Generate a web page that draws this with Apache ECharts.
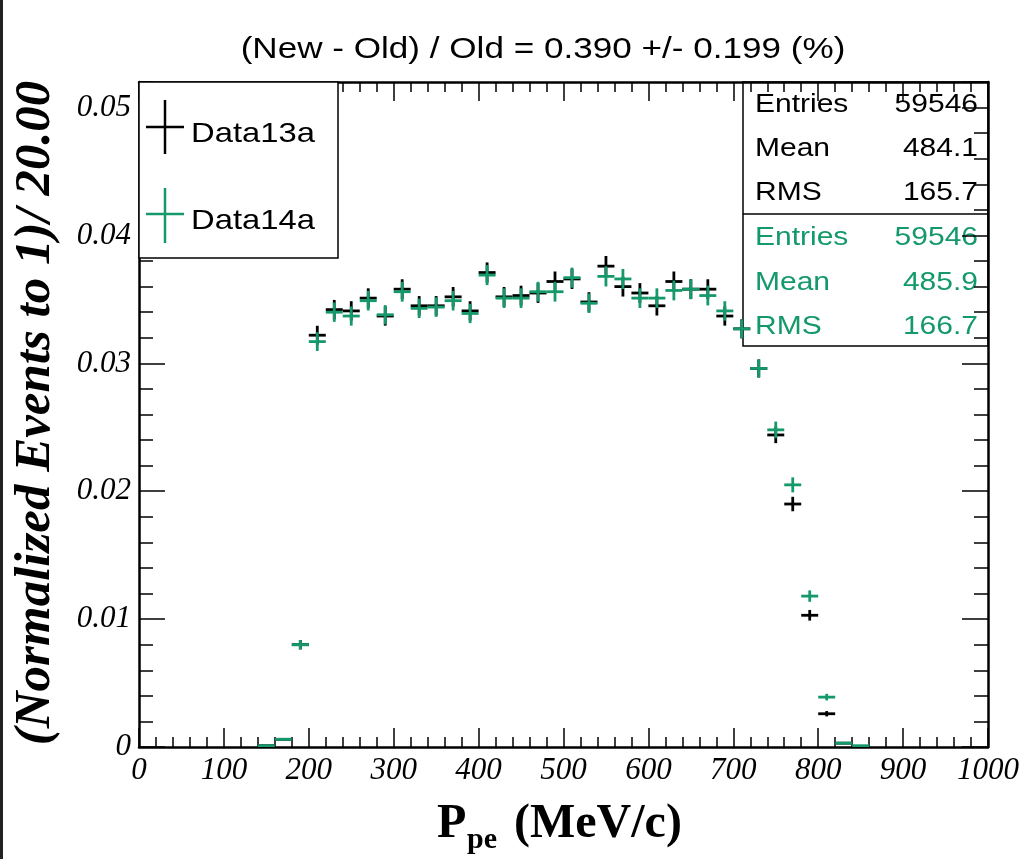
<!DOCTYPE html>
<html>
<head>
<meta charset="utf-8">
<script src="https://cdn.jsdelivr.net/npm/echarts@6/dist/echarts.min.js"></script>
<style>html,body{margin:0;padding:0;background:#fff}#c{width:1031px;height:859px}</style>
</head>
<body>
<div id="c"></div>
<script>
// ---- data ----
const binCenters = [150,170,190,210,230,250,270,290,310,330,350,370,390,410,430,450,470,490,510,530,550,570,590,610,630,650,670,690,710,730,750,770,790,810,830,850];
const data13a = [0.0001,0.0006,0.0080,0.0322,0.0342,0.0341,0.0351,0.0337,0.0358,0.0345,0.0345,0.0352,0.0341,0.0371,0.0352,0.0353,0.0355,0.0364,0.0366,0.0348,0.0376,0.0360,0.0355,0.0345,0.0364,0.0358,0.0358,0.0337,0.0327,0.0296,0.0244,0.0190,0.0103,0.0026,0.0003,0.0000];
const data14a = [0.0001,0.0006,0.0080,0.0317,0.0340,0.0337,0.0349,0.0338,0.0356,0.0343,0.0344,0.0349,0.0339,0.0369,0.0351,0.0351,0.0356,0.0356,0.0367,0.0347,0.0368,0.0366,0.0351,0.0351,0.0357,0.0358,0.0353,0.0341,0.0327,0.0296,0.0248,0.0205,0.0118,0.0039,0.0003,0.0001];
const seriesNames = ['Data13a','Data14a'];
const entries = [59546, 59546];
const means = ['484.1','485.9'];
const rmsVals = ['165.7','166.7'];
const binWidth = 20;
const xTicks = [0,100,200,300,400,500,600,700,800,900,1000];
const yTickLabels = ['0','0.01','0.02','0.03','0.04','0.05'];
const titleText = '(New - Old) / Old = 0.390 +/- 0.199 (%)';

const BLACK = '#000000';
const GREEN = '#14996a';

function buildData(vals, n) {
  const out = [];
  for (let i = 0; i < binCenters.length; i++) {
    if (vals[i] > 0) out.push([binCenters[i], vals[i], Math.sqrt(vals[i] / n)]);
  }
  return out;
}

function crossRenderer(color) {
  return function (params, api) {
    const x = api.value(0), y = api.value(1), e = api.value(2);
    const c = api.coord([x, y]);
    const l = api.coord([x - binWidth / 2, y]);
    const r = api.coord([x + binWidth / 2, y]);
    const t = api.coord([x, y + e]);
    const b = api.coord([x, Math.max(0, y - e)]);
    const st = { stroke: color, lineWidth: 2.8 };
    return {
      type: 'group',
      children: [
        { type: 'line', shape: { x1: l[0], y1: c[1], x2: r[0], y2: c[1] }, style: st },
        { type: 'line', shape: { x1: c[0], y1: t[1], x2: c[0], y2: b[1] }, style: st }
      ]
    };
  };
}

const chart = echarts.init(document.getElementById('c'), null, { renderer: 'canvas' });

const tickFont = { fontFamily: 'Liberation Serif', fontStyle: 'italic', fontSize: 31, color: '#000' };
const axLine = { show: true, onZero: false, lineStyle: { color: '#000', width: 2.5 } };
const noLine = { show: false, onZero: false };

const baseXMajor = {
  type: 'value', min: xTicks[0], max: xTicks[xTicks.length - 1], interval: 100,
  axisLine: axLine,
  axisTick: { show: true, inside: true, length: 19, lineStyle: { color: '#000', width: 1.5 } },
  splitLine: { show: false }
};
const baseXMinor = {
  type: 'value', min: xTicks[0], max: xTicks[xTicks.length - 1], interval: 20,
  axisLine: noLine,
  axisTick: { show: true, inside: true, length: 10, lineStyle: { color: '#000', width: 1.5 } },
  axisLabel: { show: false },
  splitLine: { show: false }
};
const baseYMajor = {
  type: 'value', min: 0, max: 0.052, interval: 0.01,
  axisLine: axLine,
  axisTick: { show: true, inside: true, length: 26, lineStyle: { color: '#000', width: 1.5 } },
  splitLine: { show: false }
};
const baseYMinor = {
  type: 'value', min: 0, max: 0.052, interval: 0.002,
  axisLine: noLine,
  axisTick: { show: true, inside: true, length: 14, lineStyle: { color: '#000', width: 1.5 } },
  axisLabel: { show: false },
  splitLine: { show: false }
};

const option = {
  backgroundColor: '#fff',
  animation: false,
  grid: { left: 139, right: 43, top: 82, bottom: 112, show: false },
  xAxis: [
    Object.assign({}, baseXMajor, {
      position: 'bottom', offset: 0,
      axisLabel: Object.assign({}, tickFont, { margin: 8, formatter: v => String(v) })
    }),
    Object.assign({}, baseXMajor, { position: 'top', offset: 0, axisLabel: { show: false } }),
    Object.assign({}, baseXMinor, { position: 'bottom', offset: 0 }),
    Object.assign({}, baseXMinor, { position: 'top', offset: 0 })
  ],
  yAxis: [
    Object.assign({}, baseYMajor, {
      position: 'left', offset: 0,
      axisLabel: Object.assign({}, tickFont, {
        margin: 8, showMaxLabel: false, padding: [0, 0, 10, 0],
        formatter: v => { const k = Math.round(v * 100); return (Math.abs(v * 100 - k) < 1e-6 && k <= 5) ? yTickLabels[k] : ''; }
      })
    }),
    Object.assign({}, baseYMinor, { position: 'left', offset: 0 }),
    Object.assign({}, baseYMajor, { position: 'right', offset: 0, axisLabel: { show: false } }),
    Object.assign({}, baseYMinor, { position: 'right', offset: 0 })
  ],
  series: [
    {
      name: seriesNames[0], type: 'custom', xAxisIndex: 0, yAxisIndex: 0, z: 3,
      renderItem: crossRenderer(BLACK), data: buildData(data13a, entries[0]), clip: true
    },
    {
      name: seriesNames[1], type: 'custom', xAxisIndex: 0, yAxisIndex: 0, z: 4,
      renderItem: crossRenderer(GREEN), data: buildData(data14a, entries[1]), clip: true
    }
  ],
  graphic: [
    // left page edge
    { type: 'rect', shape: { x: 0, y: 0, width: 3, height: 859 }, style: { fill: '#222' }, z: 1 },
    // title
    { type: 'text', x: 543, y: 50, scaleX: 1.17, z: 5,
      style: { text: titleText, fontFamily: 'Liberation Sans', fontSize: 30, fill: '#000', align: 'center', verticalAlign: 'middle' } },
    // y axis title
    { type: 'text', x: 36, y: 413, rotation: Math.PI / 2, z: 5,
      style: { text: '(Normalized Events to 1)/ 20.00', fontFamily: 'Liberation Serif', fontStyle: 'italic', fontWeight: 'bold', fontSize: 51, fill: '#000', align: 'center', verticalAlign: 'middle' } },
    // x axis title
    { type: 'text', x: 437, y: 825, z: 5,
      style: { text: 'P', fontFamily: 'Liberation Serif', fontWeight: 'bold', fontSize: 48, fill: '#000', align: 'left', verticalAlign: 'middle' } },
    { type: 'text', x: 467, y: 840, z: 5,
      style: { text: 'pe', fontFamily: 'Liberation Serif', fontWeight: 'bold', fontSize: 30, fill: '#000', align: 'left', verticalAlign: 'middle' } },
    { type: 'text', x: 514, y: 825, z: 5,
      style: { text: '(MeV/c)', fontFamily: 'Liberation Serif', fontWeight: 'bold', fontSize: 48, fill: '#000', align: 'left', verticalAlign: 'middle' } },
    // legend box
    { type: 'rect', z: 20, shape: { x: 139, y: 82, width: 199, height: 176 }, style: { fill: '#fff', stroke: '#000', lineWidth: 1.5 } },
    { type: 'line', z: 21, shape: { x1: 146, y1: 127, x2: 184, y2: 127 }, style: { stroke: BLACK, lineWidth: 2.5 } },
    { type: 'line', z: 21, shape: { x1: 165, y1: 100, x2: 165, y2: 154 }, style: { stroke: BLACK, lineWidth: 2.5 } },
    { type: 'line', z: 21, shape: { x1: 146, y1: 214, x2: 184, y2: 214 }, style: { stroke: GREEN, lineWidth: 2.5 } },
    { type: 'line', z: 21, shape: { x1: 165, y1: 188, x2: 165, y2: 243 }, style: { stroke: GREEN, lineWidth: 2.5 } },
    { type: 'text', z: 21, x: 191, y: 134, scaleX: 1.17,
      style: { text: seriesNames[0], fontFamily: 'Liberation Sans', fontSize: 28, fill: '#000', align: 'left', verticalAlign: 'middle' } },
    { type: 'text', z: 21, x: 191, y: 221, scaleX: 1.17,
      style: { text: seriesNames[1], fontFamily: 'Liberation Sans', fontSize: 28, fill: '#000', align: 'left', verticalAlign: 'middle' } },
    // stats box (below axes)
    { type: 'rect', z: -1, shape: { x: 743, y: 82, width: 245, height: 264 }, style: { fill: '#fff', stroke: '#000', lineWidth: 1.5 } },
    { type: 'line', z: -1, shape: { x1: 743, y1: 214, x2: 988, y2: 214 }, style: { stroke: '#000', lineWidth: 1.5 } }
  ]
};

const statRows = [
  ['Entries', String(entries[0]), 105, BLACK],
  ['Mean', means[0], 149, BLACK],
  ['RMS', rmsVals[0], 193, BLACK],
  ['Entries', String(entries[1]), 238, GREEN],
  ['Mean', means[1], 283, GREEN],
  ['RMS', rmsVals[1], 327, GREEN]
];
statRows.forEach(r => {
  option.graphic.push({ type: 'text', z: 0, x: 755, y: r[2], scaleX: 1.2,
    style: { text: r[0], fontFamily: 'Liberation Sans', fontSize: 25, fill: r[3], align: 'left', verticalAlign: 'middle' } });
  option.graphic.push({ type: 'text', z: 0, x: 978, y: r[2], scaleX: 1.2,
    style: { text: r[1], fontFamily: 'Liberation Sans', fontSize: 25, fill: r[3], align: 'right', verticalAlign: 'middle' } });
});

chart.setOption(option);
</script>
</body>
</html>
